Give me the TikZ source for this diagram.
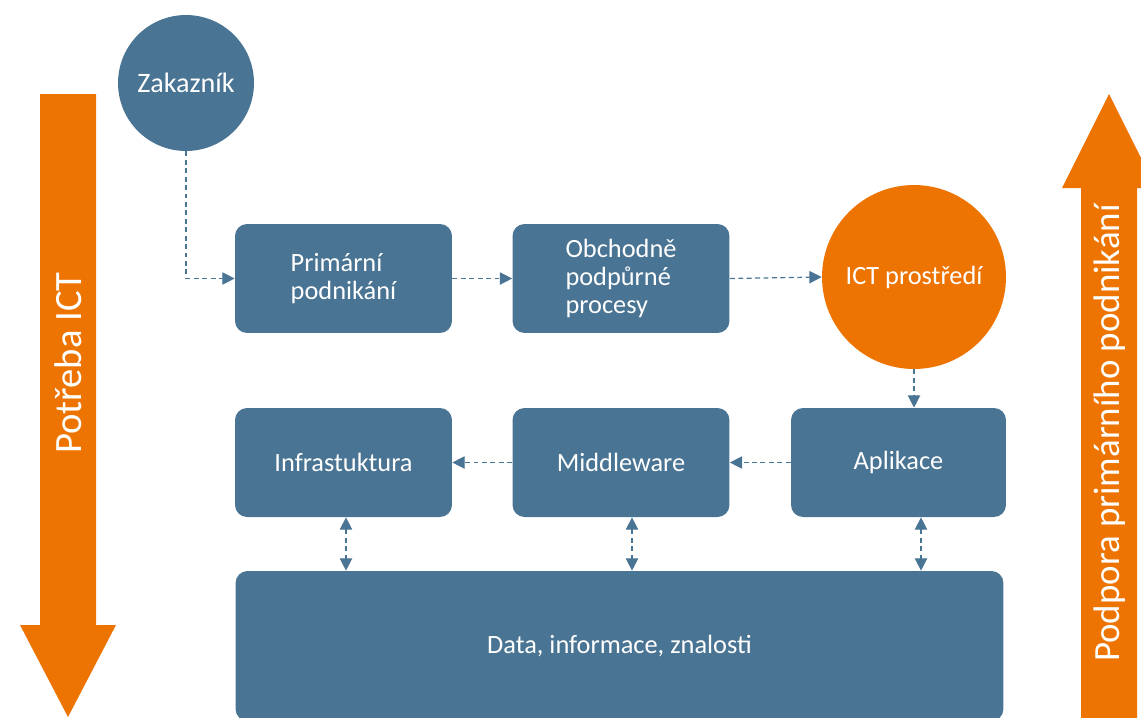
\documentclass[tikz,border=0pt]{standalone}
\usepackage{fontspec}
\setmainfont{Carlito}
\usepackage{tikz}
\usetikzlibrary{arrows.meta}

\definecolor{boxblue}{HTML}{4A7493}
\definecolor{ictorange}{HTML}{EE7402}

\tikzset{
    box/.style={fill=boxblue, rounded corners=0.24cm, minimum width=4.34cm,
        minimum height=2.18cm, text=white, align=left,
        font=\fontsize{15}{16}\selectfont},
    bubble/.style={circle, fill=boxblue, text=white, inner sep=0pt,
        font=\fontsize{15}{18}\selectfont},
    link/.style={draw=boxblue, line width=0.7pt, dash pattern=on 2.8pt off 2pt,
        -{Triangle[length=7pt,width=7pt]}},
    bigtext/.style={rotate=90, text=white}
}

\begin{document}
\begin{tikzpicture}[x=0.02cm, y=-0.02cm]
        \useasboundingbox (0,0) rectangle (1141,717);
        \clip (0,0) rectangle (1141,717);

        % Big arrows at the sides
        \fill[ictorange] (40,94) -- (96,94) -- (96,625) -- (116,625)
            -- (68,717) -- (20,625) -- (40,625) -- cycle;
        \fill[ictorange] (1081,730) -- (1081,188) -- (1062,188) -- (1109,94)
            -- (1156,188) -- (1137,188) -- (1137,730) -- cycle;
        \node[bigtext, font=\fontsize{22}{26}\selectfont] (potreba) at (68,363) {Potřeba ICT};
        \node[bigtext, font=\fontsize{21}{25}\selectfont] (podpora) at (1110,433) {Podpora primárního podnikání};

        % Upper row
        \node[bubble, minimum size=2.72cm, font=\fontsize{16}{19}\selectfont] (zakaznik) at (186,83) {Zakazník};
        \node[box] (primarni) at (343.5,278.5) {Primární\\podnikání};
        \node[box] (obchodne) at (621,278.5) {Obchodně\\podpůrné\\procesy};
        \node[bubble, fill=ictorange, minimum size=3.68cm] (ict) at (914,277) {ICT prostředí};

        % Lower row
        \node[box] (infra) at (343.5,462.5) {Infrastuktura};
        \node[box] (middleware) at (621,462.5) {Middleware};
        \node[box, minimum width=4.30cm] (aplikace) at (898.5,462.5) {Aplikace};
        \node[box, minimum width=15.36cm, minimum height=3.0cm] (data) at (619.5,646) {Data, informace, znalosti};

        % Connectors
        \draw[link] (zakaznik.south) |- (primarni.west);
        \draw[link] (primarni.east) -- (obchodne.west);
        \draw[link] (obchodne.east) -- (ict.west);
        \draw[link] (ict.south) -- (ict.south |- aplikace.north);
        \draw[link] (aplikace.west) -- (middleware.east);
        \draw[link] (middleware.west) -- (infra.east);
        \foreach \n/\x in {infra/346, middleware/632, aplikace/921}
            \draw[link, {Triangle[length=7pt,width=7pt]}-{Triangle[length=7pt,width=7pt]}]
                (\n.south -| \x,0) -- (data.north -| \x,0);
    \end{tikzpicture}
\end{document}
